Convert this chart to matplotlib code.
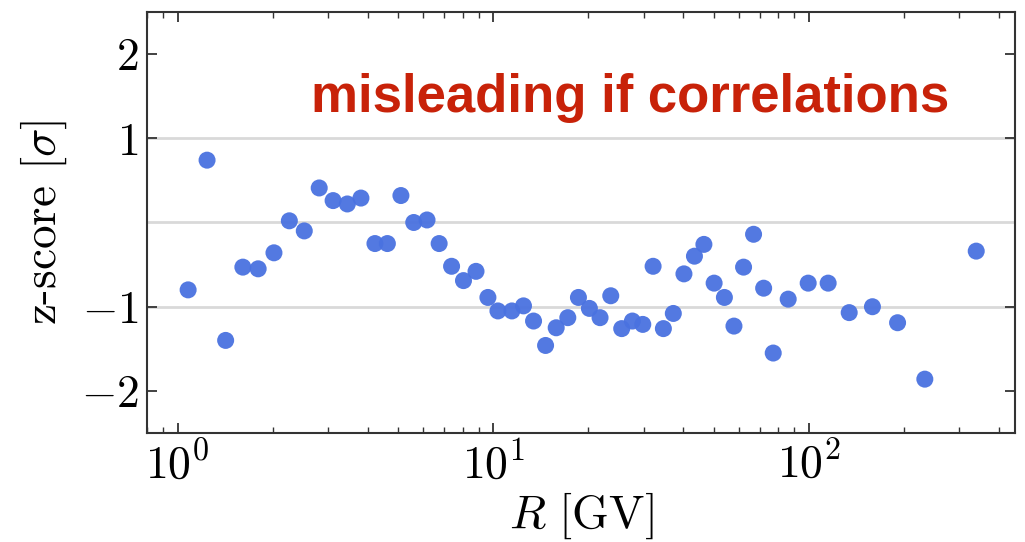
import numpy as np
import matplotlib
matplotlib.use('Agg')
import matplotlib.pyplot as plt

plt.rcParams['font.family'] = 'serif'
plt.rcParams['font.serif'] = ['cmr10']
plt.rcParams['mathtext.fontset'] = 'cm'
plt.rcParams['axes.formatter.use_mathtext'] = True

# rigidity bins [GV] and z-scores
rigidity = [1.08, 1.24, 1.42, 1.61, 1.80, 2.02, 2.26, 2.52, 2.81, 3.11,
            3.45, 3.81, 4.22, 4.62, 5.10, 5.60, 6.17, 6.74, 7.38, 8.05,
            8.82, 9.62, 10.35, 11.46, 12.47, 13.42, 14.65, 15.83, 17.23, 18.62,
            20.17, 21.80, 23.57, 25.53, 27.6, 29.77, 32.1, 34.6, 37.2, 40.2,
            43.4, 46.5, 50.1, 54.0, 57.9, 62.1, 66.8, 71.9, 77.1, 86.0,
            99.5, 115.1, 134.2, 159.0, 191.0, 233.0, 339.0]
zscore = [-0.80, 0.74, -1.40, -0.53, -0.55, -0.36, 0.02, -0.10, 0.41, 0.26,
          0.22, 0.29, -0.25, -0.25, 0.32, 0.00, 0.03, -0.25, -0.52, -0.69,
          -0.58, -0.89, -1.05, -1.05, -0.99, -1.17, -1.46, -1.25, -1.13, -0.89,
          -1.02, -1.13, -0.87, -1.26, -1.17, -1.21, -0.52, -1.26, -1.08, -0.61,
          -0.40, -0.26, -0.72, -0.89, -1.23, -0.53, -0.14, -0.78, -1.55, -0.91,
          -0.72, -0.72, -1.07, -1.00, -1.19, -1.86, -0.34]

fig = plt.figure(figsize=(10.25, 5.42), dpi=100)
ax = fig.add_axes([0.1434, 0.201, 0.8466, 0.777])

for yl in [-1, 0, 1]:
    ax.axhline(yl, color='#d9d9d9', lw=2, zorder=0)

ax.scatter(rigidity, zscore, s=150, color='#4a72e0', alpha=0.95,
           edgecolors='none', zorder=3)

ax.set_xscale('log')
ax.set_xlim(0.8, 449)
ax.set_ylim(-2.5, 2.5)
ax.set_yticks([-2, -1, 1, 2])

ax.tick_params(which='both', direction='in', top=True, right=True,
               labelsize=33, colors='#333333', labelcolor='black')
ax.tick_params(which='major', length=7, width=1.3, pad=6)
ax.tick_params(which='minor', length=4, width=1.0)
for sp in ax.spines.values():
    sp.set_linewidth(1.5)
    sp.set_color('#333333')

ax.set_xlabel(r'$R\ [\mathrm{GV}]$', fontsize=34, labelpad=2)
ax.set_ylabel(r'z-score $[\sigma]$', fontsize=34, labelpad=8)

ax.text(0.189, 0.762, 'misleading if correlations', transform=ax.transAxes,
        fontsize=38, fontweight='bold', color='#c82209',
        family='Liberation Sans')

fig.savefig('out.png', dpi=100)
